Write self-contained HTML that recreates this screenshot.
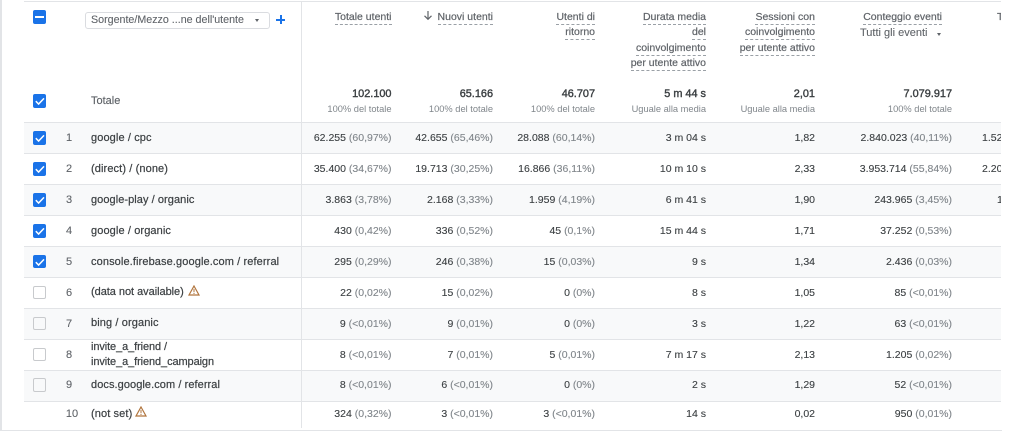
<!DOCTYPE html>
<html lang="it">
<head>
<meta charset="utf-8">
<title>Acquisizione utenti</title>
<style>
html,body{margin:0;padding:0;background:#fff}
#page{position:relative;width:1024px;height:431px;overflow:hidden;background:#fff;font-family:"Liberation Sans",sans-serif;font-size:10.5px;color:#3c4043}
.line{position:absolute;background:#e2e4e7}
.row{position:absolute;left:24px;width:977px;border-bottom:1.4px solid #e2e4e7;box-sizing:border-box;overflow:hidden}
.row.z{background:#f8f9fa}
.row>*{position:absolute}
.cb{left:8.5px;width:13.5px;height:13.5px;border-radius:2px;box-sizing:border-box}
.cb.on{background:#1a73e8}
.cb.off{border:1px solid #c8cacd;background:#fff}
.cb svg{display:block}
.n{left:33px;width:24px;text-align:center;color:#5f6368;line-height:14px;font-size:11px;-webkit-text-stroke:.1px}
.d{left:67px;line-height:15px;white-space:nowrap;font-size:11px;-webkit-text-stroke:.2px #3c4043;letter-spacing:.11px}
.v{line-height:14px;white-space:nowrap;text-align:right;-webkit-text-stroke:.12px}
.v i{font-style:normal;color:#80868b}
.h{position:absolute;white-space:nowrap;text-align:right;line-height:15px;color:#5f6368;-webkit-text-stroke:.2px #5f6368}
.h span{border-bottom:1px dashed #9aa0a6;padding-bottom:1px}
.t{position:absolute;text-align:right;white-space:nowrap;line-height:14px;font-size:10.9px;color:#3c4043;-webkit-text-stroke:.4px #3c4043}
.s{position:absolute;text-align:right;white-space:nowrap;line-height:12px;font-size:9.3px;color:#80868b}
</style>
</head>
<body>
<div id="page">
<div class="line" style="left:0;top:0;width:1.5px;height:431px"></div>
<div class="line" style="left:24px;top:1px;width:977px;height:1px"></div>
<div class="line" style="left:2px;top:430px;width:1000px;height:1px"></div>

<div style="position:absolute;left:32.5px;top:10px;width:13.5px;height:14px;background:#1a73e8;border-radius:2px"><div style="position:absolute;left:2px;top:6px;width:9.5px;height:1.6px;background:#fff"></div></div>

<div style="position:absolute;left:85px;top:11.5px;width:185px;height:17px;border:1px solid #dadce0;border-radius:3px;box-sizing:border-box">
<span style="position:absolute;left:5px;top:0;line-height:15px;color:#5f6368;white-space:nowrap;font-size:10.7px;-webkit-text-stroke:.1px">Sorgente/Mezzo ...ne dell'utente</span>
<span style="position:absolute;left:169px;top:6px;width:0;height:0;border-left:2.6px solid transparent;border-right:2.6px solid transparent;border-top:3px solid #5f6368"></span>
</div>
<div style="position:absolute;left:276px;top:18.5px;width:9px;height:2px;background:#1a73e8"><div style="position:absolute;left:3.5px;top:-3.5px;width:2px;height:9px;background:#1a73e8"></div></div>

<div class="cb on" style="position:absolute;left:32.5px;top:94px"><svg width="14" height="14" viewBox="0 0 14 14"><path d="M2.8 7.2 5.6 10 11 4.4" fill="none" stroke="#fff" stroke-width="1.5"/></svg></div>
<div style="position:absolute;left:91px;top:94px;line-height:14px;color:#5f6368;font-size:11px;-webkit-text-stroke:.15px">Totale</div>

<!-- headers -->
<div class="h" style="right:632.5px;top:10px"><span>Totale utenti</span></div>
<div class="h" style="right:531px;top:10px"><svg width="10" height="11" viewBox="0 0 10 11" style="vertical-align:-1px;margin-right:5px"><path d="M5 1v8M1.5 5.8 5 9.3l3.5-3.5" fill="none" stroke="#5f6368" stroke-width="1.2"/></svg><span>Nuovi utenti</span></div>
<div class="h" style="right:429px;top:10px;line-height:15.3px"><span>Utenti di</span><br><span>ritorno</span></div>
<div class="h" style="right:318px;top:10px;line-height:15.3px"><span>Durata media</span><br><span>del</span><br><span>coinvolgimento</span><br><span>per utente attivo</span></div>
<div class="h" style="right:209px;top:10px;line-height:15.3px"><span>Sessioni con</span><br><span>coinvolgimento</span><br><span>per utente attivo</span></div>
<div class="h" style="right:82px;top:10px"><span>Conteggio eventi</span></div>
<div class="h" style="left:860px;top:26px;font-size:11px;-webkit-text-stroke:.1px #5f6368">Tutti gli eventi</div>
<span style="position:absolute;left:937px;top:32.5px;width:0;height:0;border-left:2.6px solid transparent;border-right:2.6px solid transparent;border-top:3px solid #5f6368"></span>
<div class="h" style="left:997px;top:10px;width:4px;overflow:hidden;text-align:left">T</div>

<!-- totals -->
<div class="t" style="right:632.5px;top:87px">102.100</div>
<div class="s" style="right:632.5px;top:103px">100% del totale</div>
<div class="t" style="right:531px;top:87px">65.166</div>
<div class="s" style="right:531px;top:103px">100% del totale</div>
<div class="t" style="right:429px;top:87px">46.707</div>
<div class="s" style="right:429px;top:103px">100% del totale</div>
<div class="t" style="right:318px;top:87px">5 m 44 s</div>
<div class="s" style="right:318px;top:103px">Uguale alla media</div>
<div class="t" style="right:209px;top:87px">2,01</div>
<div class="s" style="right:209px;top:103px">Uguale alla media</div>
<div class="t" style="right:72px;top:87px">7.079.917</div>
<div class="s" style="right:72px;top:103px">100% del totale</div>

<div class="line" style="left:24px;top:122px;width:977px;height:1.4px"></div>

<!-- rows -->
<div class="row z" style="top:123px;height:31px">
<div class="cb on" style="top:8px"><svg width="14" height="14" viewBox="0 0 14 14"><path d="M2.8 7.2 5.6 10 11 4.4" fill="none" stroke="#fff" stroke-width="1.5"/></svg></div>
<div class="n" style="top:8px">1</div><div class="d" style="top:7.5px">google / cpc</div>
<div class="v" style="right:609.5px;top:8px">62.255 <i>(60,97%)</i></div><div class="v" style="right:508px;top:8px">42.655 <i>(65,46%)</i></div><div class="v" style="right:406px;top:8px">28.088 <i>(60,14%)</i></div><div class="v" style="right:295px;top:8px">3 m 04 s</div><div class="v" style="right:186px;top:8px">1,82</div><div class="v" style="right:49px;top:8px">2.840.023 <i>(40,11%)</i></div><div class="v" style="left:958px;top:8px">1.52</div>
</div>
<div class="row" style="top:154px;height:31px">
<div class="cb on" style="top:8px"><svg width="14" height="14" viewBox="0 0 14 14"><path d="M2.8 7.2 5.6 10 11 4.4" fill="none" stroke="#fff" stroke-width="1.5"/></svg></div>
<div class="n" style="top:8px">2</div><div class="d" style="top:7.5px">(direct) / (none)</div>
<div class="v" style="right:609.5px;top:8px">35.400 <i>(34,67%)</i></div><div class="v" style="right:508px;top:8px">19.713 <i>(30,25%)</i></div><div class="v" style="right:406px;top:8px">16.866 <i>(36,11%)</i></div><div class="v" style="right:295px;top:8px">10 m 10 s</div><div class="v" style="right:186px;top:8px">2,33</div><div class="v" style="right:49px;top:8px">3.953.714 <i>(55,84%)</i></div><div class="v" style="left:958px;top:8px">2.20</div>
</div>
<div class="row z" style="top:185px;height:31px">
<div class="cb on" style="top:8px"><svg width="14" height="14" viewBox="0 0 14 14"><path d="M2.8 7.2 5.6 10 11 4.4" fill="none" stroke="#fff" stroke-width="1.5"/></svg></div>
<div class="n" style="top:8px">3</div><div class="d" style="top:7.5px;letter-spacing:.06px">google-play / organic</div>
<div class="v" style="right:609.5px;top:8px">3.863 <i>(3,78%)</i></div><div class="v" style="right:508px;top:8px">2.168 <i>(3,33%)</i></div><div class="v" style="right:406px;top:8px">1.959 <i>(4,19%)</i></div><div class="v" style="right:295px;top:8px">6 m 41 s</div><div class="v" style="right:186px;top:8px">1,90</div><div class="v" style="right:49px;top:8px">243.965 <i>(3,45%)</i></div><div class="v" style="left:973px;top:8px">1</div>
</div>
<div class="row" style="top:216px;height:31px">
<div class="cb on" style="top:8px"><svg width="14" height="14" viewBox="0 0 14 14"><path d="M2.8 7.2 5.6 10 11 4.4" fill="none" stroke="#fff" stroke-width="1.5"/></svg></div>
<div class="n" style="top:8px">4</div><div class="d" style="top:7.5px">google / organic</div>
<div class="v" style="right:609.5px;top:8px">430 <i>(0,42%)</i></div><div class="v" style="right:508px;top:8px">336 <i>(0,52%)</i></div><div class="v" style="right:406px;top:8px">45 <i>(0,1%)</i></div><div class="v" style="right:295px;top:8px">15 m 44 s</div><div class="v" style="right:186px;top:8px">1,71</div><div class="v" style="right:49px;top:8px">37.252 <i>(0,53%)</i></div>
</div>
<div class="row z" style="top:247px;height:31px">
<div class="cb on" style="top:7.5px"><svg width="14" height="14" viewBox="0 0 14 14"><path d="M2.8 7.2 5.6 10 11 4.4" fill="none" stroke="#fff" stroke-width="1.5"/></svg></div>
<div class="n" style="top:8px">5</div><div class="d" style="top:7.5px">console.firebase.google.com / referral</div>
<div class="v" style="right:609.5px;top:8px">295 <i>(0,29%)</i></div><div class="v" style="right:508px;top:8px">246 <i>(0,38%)</i></div><div class="v" style="right:406px;top:8px">15 <i>(0,03%)</i></div><div class="v" style="right:295px;top:8px">9 s</div><div class="v" style="right:186px;top:8px">1,34</div><div class="v" style="right:49px;top:8px">2.436 <i>(0,03%)</i></div>
</div>
<div class="row" style="top:278px;height:30.5px">
<div class="cb off" style="top:7.5px"></div>
<div class="n" style="top:7.5px">6</div><div class="d" style="top:6.5px;letter-spacing:-.04px">(data not available)</div>
<svg style="left:163.5px;top:6.5px" width="12" height="11" viewBox="0 0 12 11"><path d="M6 1 11 10H1Z" fill="none" stroke="#b0743c" stroke-width="1.2"/><path d="M6 4v3.2M6 8v1" stroke="#b0743c"/></svg>
<div class="v" style="right:609.5px;top:7.5px">22 <i>(0,02%)</i></div><div class="v" style="right:508px;top:7.5px">15 <i>(0,02%)</i></div><div class="v" style="right:406px;top:7.5px">0 <i>(0%)</i></div><div class="v" style="right:295px;top:7.5px">8 s</div><div class="v" style="right:186px;top:7.5px">1,05</div><div class="v" style="right:49px;top:7.5px">85 <i>(&lt;0,01%)</i></div>
</div>
<div class="row z" style="top:308.5px;height:31px">
<div class="cb off" style="top:8px;background:#f8f9fa"></div>
<div class="n" style="top:8px">7</div><div class="d" style="top:7.5px">bing / organic</div>
<div class="v" style="right:609.5px;top:8px">9 <i>(&lt;0,01%)</i></div><div class="v" style="right:508px;top:8px">9 <i>(0,01%)</i></div><div class="v" style="right:406px;top:8px">0 <i>(0%)</i></div><div class="v" style="right:295px;top:8px">3 s</div><div class="v" style="right:186px;top:8px">1,22</div><div class="v" style="right:49px;top:8px">63 <i>(&lt;0,01%)</i></div>
</div>
<div class="row" style="top:339.5px;height:31px">
<div class="cb off" style="top:8px"></div>
<div class="n" style="top:8px">8</div><div class="d" style="top:0px;letter-spacing:-.1px">invite_a_friend /<br>invite_a_friend_campaign</div>
<div class="v" style="right:609.5px;top:8px">8 <i>(&lt;0,01%)</i></div><div class="v" style="right:508px;top:8px">7 <i>(0,01%)</i></div><div class="v" style="right:406px;top:8px">5 <i>(0,01%)</i></div><div class="v" style="right:295px;top:8px">7 m 17 s</div><div class="v" style="right:186px;top:8px">2,13</div><div class="v" style="right:49px;top:8px">1.205 <i>(0,02%)</i></div>
</div>
<div class="row z" style="top:370.5px;height:31px">
<div class="cb off" style="top:7.5px;background:#f8f9fa"></div>
<div class="n" style="top:7.5px">9</div><div class="d" style="top:7px;letter-spacing:.07px">docs.google.com / referral</div>
<div class="v" style="right:609.5px;top:7.5px">8 <i>(&lt;0,01%)</i></div><div class="v" style="right:508px;top:7.5px">6 <i>(&lt;0,01%)</i></div><div class="v" style="right:406px;top:7.5px">0 <i>(0%)</i></div><div class="v" style="right:295px;top:7.5px">2 s</div><div class="v" style="right:186px;top:7.5px">1,29</div><div class="v" style="right:49px;top:7.5px">52 <i>(&lt;0,01%)</i></div>
</div>
<div class="row" style="top:401.5px;height:28px;border-bottom:none">
<div class="n" style="top:5.5px;left:36px">10</div><div class="d" style="top:5px">(not set)</div>
<svg style="left:110.5px;top:4.5px" width="12" height="11" viewBox="0 0 12 11"><path d="M6 1 11 10H1Z" fill="none" stroke="#b0743c" stroke-width="1.2"/><path d="M6 4v3.2M6 8v1" stroke="#b0743c"/></svg>
<div class="v" style="right:609.5px;top:5.5px">324 <i>(0,32%)</i></div><div class="v" style="right:508px;top:5.5px">3 <i>(&lt;0,01%)</i></div><div class="v" style="right:406px;top:5.5px">3 <i>(&lt;0,01%)</i></div><div class="v" style="right:295px;top:5.5px">14 s</div><div class="v" style="right:186px;top:5.5px">0,02</div><div class="v" style="right:49px;top:5.5px">950 <i>(0,01%)</i></div>
</div>

<div class="line" style="left:301px;top:1px;width:1.2px;height:427px"></div>
</div>
</body>
</html>
